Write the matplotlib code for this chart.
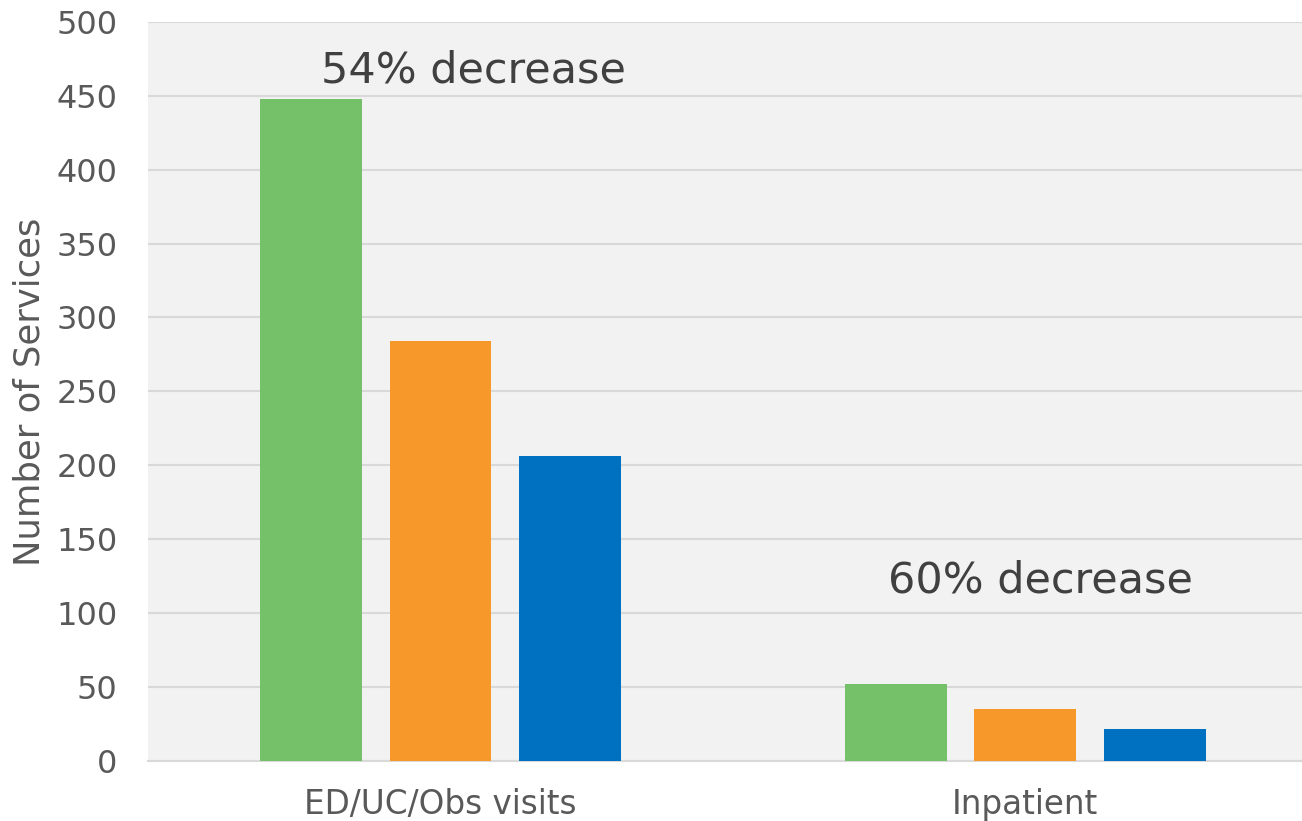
import numpy as np
import matplotlib
matplotlib.use("Agg")
import matplotlib.pyplot as plt

categories = ["ED/UC/Obs visits", "Inpatient"]
series_a = [448, 52]
series_b = [284, 35]
series_c = [206, 21]
colors = ["#75C16A", "#F7992A", "#0070C0"]
notes = ["54% decrease", "60% decrease"]
yticks = [0, 50, 100, 150, 200, 250, 300, 350, 400, 450, 500]

fig = plt.figure(figsize=(13.02, 8.21), dpi=100)
ax = fig.add_axes([148 / 1302, 1 - 760.5 / 821, 1 - 148 / 1302, (760.5 - 22) / 821])
ax.set_facecolor("#F2F2F2")

x = np.arange(len(categories))
w = 0.174
step = 0.2214
for i, vals in enumerate([series_a, series_b, series_c]):
    ax.bar(x + (i - 1) * step, vals, width=w, color=colors[i], zorder=3)

ax.set_xlim(-0.5, 1.473)
ax.set_ylim(0, 500)
ax.set_yticks(yticks)
ax.set_xticks(x)
ax.set_xticklabels(categories, fontsize=23.5, color="#595959")
ax.tick_params(axis="y", labelsize=23, labelcolor="#595959", length=0, pad=22)
ax.tick_params(axis="x", length=0, pad=20)
ax.grid(axis="y", color="#D9D9D9", linewidth=1.5, zorder=0)
ax.set_axisbelow(True)
for s in ["left", "right", "top"]:
    ax.spines[s].set_visible(False)
ax.spines["bottom"].set_color("#D9D9D9")
ax.spines["bottom"].set_linewidth(1.5)

fig.text(30 / 1302, 0.523, "Number of Services", fontsize=25.5, color="#595959",
         rotation=90, ha="center", va="center")

ax.text(0.057, 467, notes[0], fontsize=31, color="#404040", ha="center", va="center")
ax.text(1.025, 122, notes[1], fontsize=31, color="#404040", ha="center", va="center")

fig.savefig("out.png", dpi=100)
